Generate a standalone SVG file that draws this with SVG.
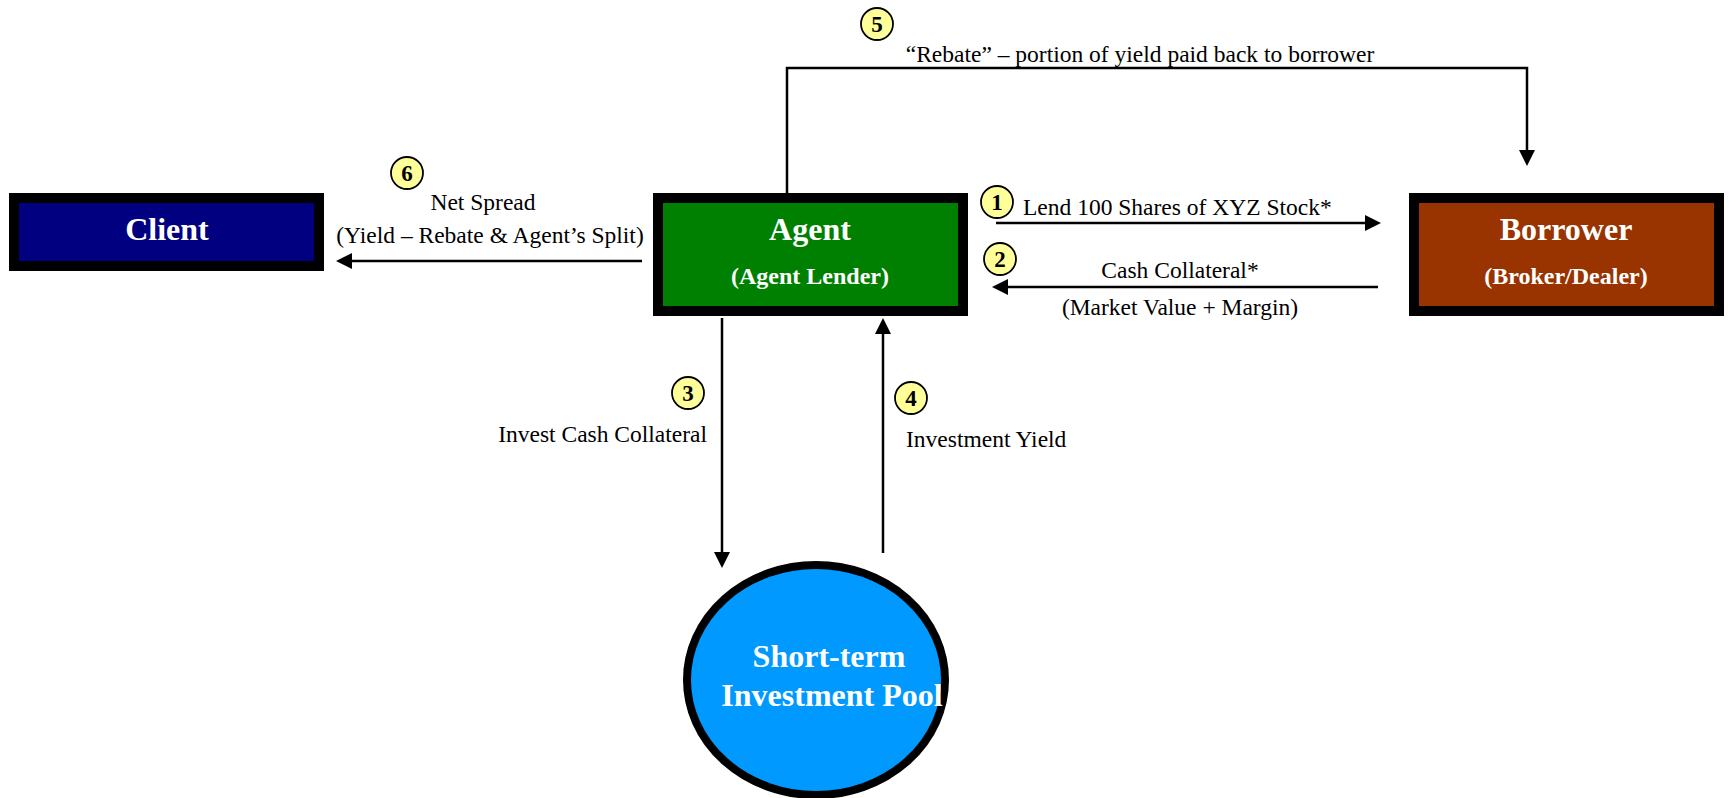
<svg xmlns="http://www.w3.org/2000/svg" width="1729" height="798" viewBox="0 0 1729 798">
<style>
.box{stroke:#000;stroke-width:10}
.title{font-family:"Liberation Serif","Times New Roman",serif;font-weight:bold;font-size:32px;fill:#fff;text-anchor:middle}
.sub{font-family:"Liberation Serif","Times New Roman",serif;font-weight:bold;font-size:24px;fill:#fff;text-anchor:middle}
.lbl{font-family:"Liberation Serif","Times New Roman",serif;font-size:23.5px;fill:#000}
.num{font-family:"Liberation Serif","Times New Roman",serif;font-weight:bold;font-size:23px;fill:#000;text-anchor:middle}
.badge{fill:#FFFF99;stroke:#000;stroke-width:1.8}
.conn{fill:none;stroke:#000;stroke-width:2.5}
</style>
<defs>
<marker id="ah" viewBox="0 0 16 16" refX="12" refY="8" markerWidth="16" markerHeight="16" markerUnits="userSpaceOnUse" orient="auto">
<path d="M0,0 L16,8 L0,16 Z" fill="#000"/>
</marker>
</defs>

<g id="connectors">
<polyline class="conn" points="787,193 787,68 1527,68 1527,162" marker-end="url(#ah)"/>
<line class="conn" x1="996" y1="223" x2="1377" y2="223" marker-end="url(#ah)"/>
<line class="conn" x1="1378" y1="287" x2="996" y2="287" marker-end="url(#ah)"/>
<line class="conn" x1="642" y1="261" x2="340" y2="261" marker-end="url(#ah)"/>
<line class="conn" x1="722" y1="318" x2="722" y2="564" marker-end="url(#ah)"/>
<line class="conn" x1="883" y1="553" x2="883" y2="322" marker-end="url(#ah)"/>
</g>

<g id="client">
<rect class="box" x="14" y="198" width="305" height="68" fill="#000080"/>
<text class="title" x="167" y="240">Client</text>
</g>

<g id="agent">
<rect class="box" x="658" y="198" width="305" height="113" fill="#008000"/>
<text class="title" x="810" y="240">Agent</text>
<text class="sub" x="810" y="284">(Agent Lender)</text>
</g>

<g id="borrower">
<rect class="box" x="1414" y="198" width="305" height="113" fill="#993300"/>
<text class="title" x="1566" y="240">Borrower</text>
<text class="sub" x="1566" y="284">(Broker/Dealer)</text>
</g>

<g id="pool">
<ellipse cx="816" cy="680" rx="129" ry="115" fill="#0099FF" stroke="#000" stroke-width="8"/>
<text class="title" x="829" y="667">Short-term</text>
<text class="title" x="832" y="706">Investment Pool</text>
</g>

<g id="step1">
<circle class="badge" cx="997" cy="202" r="16"/>
<text class="num" x="997" y="210">1</text>
<text class="lbl" x="1023" y="215">Lend 100 Shares of XYZ Stock*</text>
</g>

<g id="step2">
<circle class="badge" cx="1000" cy="259" r="16"/>
<text class="num" x="1000" y="267">2</text>
<text class="lbl" x="1180" y="278" text-anchor="middle">Cash Collateral*</text>
<text class="lbl" x="1180" y="315" text-anchor="middle">(Market Value + Margin)</text>
</g>

<g id="step3">
<circle class="badge" cx="688" cy="393" r="16"/>
<text class="num" x="688" y="401">3</text>
<text class="lbl" x="707" y="442" text-anchor="end">Invest Cash Collateral</text>
</g>

<g id="step4">
<circle class="badge" cx="911" cy="398" r="16"/>
<text class="num" x="911" y="406">4</text>
<text class="lbl" x="906" y="447">Investment Yield</text>
</g>

<g id="step5">
<circle class="badge" cx="877" cy="24" r="16"/>
<text class="num" x="877" y="32">5</text>
<text class="lbl" x="1140" y="62" text-anchor="middle">“Rebate” – portion of yield paid back to borrower</text>
</g>

<g id="step6">
<circle class="badge" cx="407" cy="173" r="16"/>
<text class="num" x="407" y="181">6</text>
<text class="lbl" x="483" y="210" text-anchor="middle">Net Spread</text>
<text class="lbl" x="490" y="243" text-anchor="middle">(Yield – Rebate &amp; Agent’s Split)</text>
</g>
</svg>
